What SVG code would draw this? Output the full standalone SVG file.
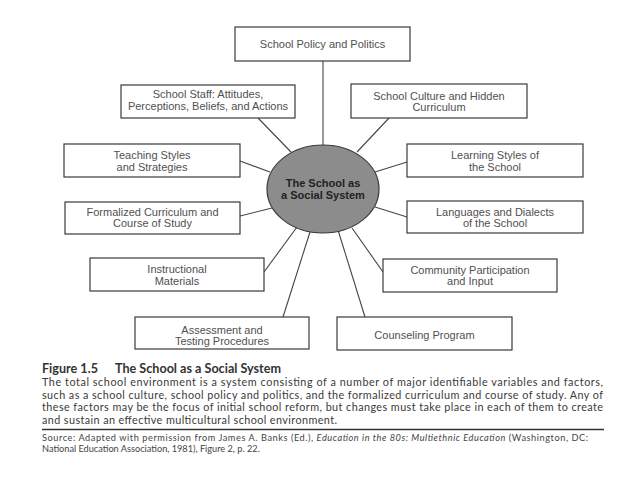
<svg xmlns="http://www.w3.org/2000/svg" width="638" height="479" viewBox="0 0 638 479">
<style>
.box{fill:#fff;stroke:#3a3a3a;stroke-width:1.2}
.lbl{font-family:"Liberation Sans",Arial,sans-serif;font-size:11px;fill:#505050;text-anchor:middle}
.ctr{font-family:"Liberation Sans",Arial,sans-serif;font-size:11px;font-weight:bold;fill:#222;text-anchor:middle}
.conn line{stroke:#444;stroke-width:1.1}
.cap{font-family:Lato,"Open Sans",sans-serif;font-size:12.6px;font-weight:bold;fill:#333}
.par{font-family:Lato,"Open Sans",sans-serif;font-size:10.8px;fill:#3a3a3a}
.src{font-family:Lato,"Open Sans",sans-serif;font-size:9.2px;fill:#444}
</style>
<rect width="638" height="479" fill="#fff"/>
<g class="conn" id="connectors">
<line x1="323" y1="61" x2="323" y2="145"/>
<line x1="258" y1="118" x2="291" y2="152"/>
<line x1="240" y1="161" x2="270" y2="172"/>
<line x1="240" y1="216" x2="272" y2="208"/>
<line x1="264" y1="272" x2="297" y2="227"/>
<line x1="283" y1="317" x2="310" y2="232"/>
<line x1="389" y1="118" x2="357" y2="152"/>
<line x1="407" y1="162" x2="375" y2="172"/>
<line x1="407" y1="217" x2="375" y2="207"/>
<line x1="383" y1="272" x2="352" y2="228"/>
<line x1="365" y1="317" x2="338" y2="230"/>
</g>
<g id="center">
<ellipse cx="323" cy="189" rx="56" ry="44" fill="#8c8c8c" stroke="#3a3a3a" stroke-width="1.2"/>
<text class="ctr" x="323" y="187">The School as</text>
<text class="ctr" x="323" y="198.5">a Social System</text>
</g>
<g id="policy">
<rect class="box" x="235" y="27" width="175" height="34"/>
<text class="lbl" x="322.5" y="48">School Policy and Politics</text>
</g>
<g id="staff">
<rect class="box" x="121" y="85" width="174" height="33"/>
<text class="lbl" x="208" y="98">School Staff: Attitudes,</text>
<text class="lbl" x="208" y="110">Perceptions, Beliefs, and Actions</text>
</g>
<g id="teaching">
<rect class="box" x="64" y="144" width="176" height="33"/>
<text class="lbl" x="152" y="159">Teaching Styles</text>
<text class="lbl" x="152" y="170.5">and Strategies</text>
</g>
<g id="formalized">
<rect class="box" x="65" y="202" width="175" height="32"/>
<text class="lbl" x="152.5" y="215.5">Formalized Curriculum and</text>
<text class="lbl" x="152.5" y="227">Course of Study</text>
</g>
<g id="instructional">
<rect class="box" x="90" y="258" width="174" height="33"/>
<text class="lbl" x="177" y="273">Instructional</text>
<text class="lbl" x="177" y="284.5">Materials</text>
</g>
<g id="assessment">
<rect class="box" x="135" y="317" width="174" height="32"/>
<text class="lbl" x="222" y="334">Assessment and</text>
<text class="lbl" x="222" y="345">Testing Procedures</text>
</g>
<g id="culture">
<rect class="box" x="351" y="84" width="176" height="34"/>
<text class="lbl" x="439" y="99.5">School Culture and Hidden</text>
<text class="lbl" x="439" y="110.5">Curriculum</text>
</g>
<g id="learning">
<rect class="box" x="407" y="144" width="176" height="33"/>
<text class="lbl" x="495" y="159">Learning Styles of</text>
<text class="lbl" x="495" y="170.5">the School</text>
</g>
<g id="languages">
<rect class="box" x="407" y="201" width="176" height="32"/>
<text class="lbl" x="495" y="215.5">Languages and Dialects</text>
<text class="lbl" x="495" y="227">of the School</text>
</g>
<g id="community">
<rect class="box" x="383" y="259" width="174" height="33"/>
<text class="lbl" x="470" y="273.5">Community Participation</text>
<text class="lbl" x="470" y="285">and Input</text>
</g>
<g id="counseling">
<rect class="box" x="337" y="317" width="175" height="33"/>
<text class="lbl" x="424.5" y="339">Counseling Program</text>
</g>
<g id="caption">
<text class="cap" x="42" y="373">Figure 1.5<tspan x="115">The School as a Social System</tspan></text>
<text class="par" x="42" y="386" textLength="561" lengthAdjust="spacing">The total school environment is a system consisting of a number of major identifiable variables and factors,</text>
<text class="par" x="42" y="398.5" textLength="561" lengthAdjust="spacing">such as a school culture, school policy and politics, and the formalized curriculum and course of study. Any of</text>
<text class="par" x="42" y="411" textLength="561" lengthAdjust="spacing">these factors may be the focus of initial school reform, but changes must take place in each of them to create</text>
<text class="par" x="42" y="423.5" textLength="295" lengthAdjust="spacing">and sustain an effective multicultural school environment.</text>
<line x1="42" y1="429.5" x2="604" y2="429.5" stroke="#333" stroke-width="1.3"/>
<text class="src" x="42" y="441" textLength="546" lengthAdjust="spacing">Source: Adapted with permission from James A. Banks (Ed.), <tspan font-style="italic">Education in the 80s: Multiethnic Education</tspan> (Washington, DC:</text>
<text class="src" x="42" y="452">National Education Association, 1981), Figure 2, p. 22.</text>
</g>
</svg>
